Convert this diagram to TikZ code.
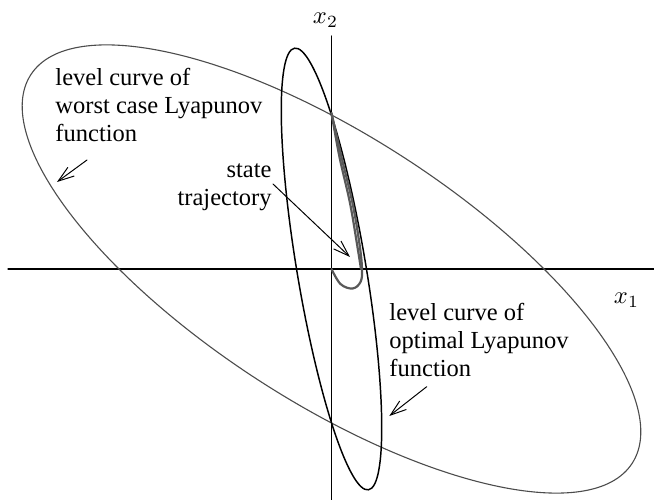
\documentclass[tikz,border=0pt]{standalone}
\usepackage{fontspec}
\setmainfont{Liberation Serif}
\usetikzlibrary{arrows.meta}

\begin{document}
\begin{tikzpicture}[x=0.408pt,y=0.408pt,>={Straight Barb[length=6.5pt,width=4.4pt]},line cap=round,line join=round,
  axis/.style={line width=0.5pt},
  worst/.style={line width=0.45pt,black!70},
  optimal/.style={line width=0.6pt},
  traj/.style={line width=0.9pt,black!65},
  pointer/.style={->,line width=0.4pt},
  lbl/.style={font=\fontsize{10}{11.6}\selectfont,inner sep=0pt}]
\useasboundingbox (-331.5,-231) rectangle (322.5,269);
\coordinate (O) at (0,0);
\coordinate (xl) at (-323.5,0);
\coordinate (xr) at (322.5,0);
\coordinate (yb) at (0,-231);
\coordinate (yt) at (0,233);
\draw[axis] (xl) -- (xr);
\draw[axis] (yb) -- (yt);
\node[lbl] (xtwo) at (-6,249) {$x_2$};
\node[lbl] (xone) at (295,-31) {$x_1$};
% level curves
\draw[worst,rotate=-32.86] (O) ellipse [x radius=358,y radius=133];
\draw[optimal,rotate=-80.5] (O) ellipse [x radius=223.9,y radius=34.5];
% state trajectory
\draw[traj] plot[smooth,tension=0.6] coordinates {(0,156) (10,112) (21,66) (28,25) (30.5,0) (29,-13) (21,-19.5) (9,-15) (0,0)};
\draw[traj] plot[smooth,tension=0.6] coordinates {(0,156) (8,112) (18.5,66) (25.5,25) (29.5,0)};
% labels (base = last line)
\node[lbl,anchor=base west,align=left] (worsttxt) at (-276.5,127) {level curve of\\worst case Lyapunov\\function};
\node[lbl,anchor=base east,align=right] (statetxt) at (-59.5,63.5) {state\\trajectory};
\node[lbl,anchor=base west,align=left] (opttxt) at (57.5,-108) {level curve of\\optimal Lyapunov\\function};
\coordinate (wa) at (-244.5,109);
\coordinate (wb) at (-274.5,87);
\coordinate (sa) at (-58.5,85);
\coordinate (sb) at (18.5,12);
\coordinate (oa) at (95.2,-117.7);
\coordinate (ob) at (57.8,-147);
\draw[pointer] (wa) -- (wb);
\draw[pointer] (sa) -- (sb);
\draw[pointer] (oa) -- (ob);
\end{tikzpicture}
\end{document}
